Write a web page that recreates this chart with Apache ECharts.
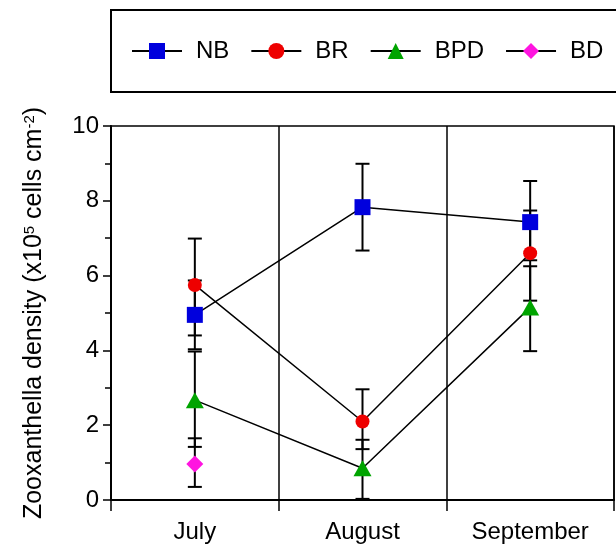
<!DOCTYPE html>
<html>
<head>
<meta charset="utf-8">
<script src="https://cdn.jsdelivr.net/npm/echarts@6/dist/echarts.min.js"></script>
<style>
  html, body { margin: 0; padding: 0; background: #fff; }
  #chart { width: 616px; height: 544px; }
</style>
</head>
<body>
<div id="chart"></div>
<script>
// months on the x axis
var months = ['July', 'August', 'September'];

// mean zooxanthella density (x10^5 cells cm-2)
var nbMean  = [4.95, 7.83, 7.43];
var brMean  = [5.75, 2.10, 6.60];
var bpdMean = [2.67, 0.85, 5.15];
var bdMean  = [0.96, null, null];

// error bar limits (lower / upper)
var nbLow  = [4.03, 6.67, 6.41];
var nbHigh = [5.87, 8.99, 8.53];
var brLow  = [4.40, 1.36, 5.33];
var brHigh = [6.99, 2.96, 7.74];
var bpdLow  = [1.42, 0.03, 3.98];
var bpdHigh = [3.97, 1.61, 6.25];
var bdLow  = [0.35, null, null];
var bdHigh = [1.65, null, null];

var FONT = "'Liberation Sans', Arial, sans-serif";

function errData(low, high) {
    var out = [];
    for (var i = 0; i < low.length; i++) {
        if (low[i] != null) out.push([i, low[i], high[i]]);
    }
    return out;
}

function errSeries(low, high) {
    return {
        type: 'custom',
        silent: true,
        z: 1,
        data: errData(low, high),
        encode: { x: 0, y: [1, 2] },
        renderItem: function (params, api) {
            var x = api.value(0);
            var lo = api.coord([x, api.value(1)]);
            var hi = api.coord([x, api.value(2)]);
            var cap = 7;
            var st = { stroke: '#000', lineWidth: 2 };
            return {
                type: 'group',
                children: [
                    { type: 'line', shape: { x1: lo[0], y1: lo[1], x2: hi[0], y2: hi[1] }, style: st },
                    { type: 'line', shape: { x1: lo[0] - cap, y1: lo[1], x2: lo[0] + cap, y2: lo[1] }, style: st },
                    { type: 'line', shape: { x1: hi[0] - cap, y1: hi[1], x2: hi[0] + cap, y2: hi[1] }, style: st }
                ]
            };
        }
    };
}

function meanSeries(name, data, symbol, size, color) {
    return {
        name: name,
        type: 'line',
        z: 3,
        data: data,
        symbol: symbol,
        symbolSize: size,
        showAllSymbol: true,
        connectNulls: false,
        lineStyle: { color: '#000', width: 1.5 },
        itemStyle: { color: color, opacity: 1 },
        emphasis: { disabled: true }
    };
}

var myChart = echarts.init(document.getElementById('chart'));
var option = {
    backgroundColor: '#fff',
    animation: false,
    textStyle: { fontFamily: FONT },
    grid: {
        left: 111,
        right: 2,
        top: 126,
        bottom: 43,
        show: true,
        borderColor: '#000',
        borderWidth: 1.5,
        containLabel: false
    },
    legend: {
        left: 131,
        top: 39,
        width: 600,
        padding: 0,
        itemWidth: 50,
        itemHeight: 20,
        itemGap: 21,
        selectedMode: false,
        textStyle: { fontSize: 24, color: '#000', fontFamily: FONT, padding: [0, 0, 0, 9] },
        data: ['NB', 'BR', 'BPD', 'BD']
    },
    graphic: [{
        type: 'rect',
        shape: { x: 111, y: 10, width: 520, height: 82 },
        style: { fill: 'none', stroke: '#000', lineWidth: 2 },
        silent: true
    }],
    xAxis: {
        type: 'category',
        data: months,
        boundaryGap: true,
        axisLine: { lineStyle: { color: '#000', width: 2 } },
        axisTick: { show: true, length: 11, inside: false, lineStyle: { color: '#000', width: 1.5 } },
        axisLabel: { color: '#000', fontSize: 24, margin: 20, fontFamily: FONT },
        splitLine: { show: true, lineStyle: { color: '#000', width: 1.5 } }
    },
    yAxis: {
        type: 'value',
        min: 0,
        max: 10,
        interval: 2,
        name: 'Zooxanthella density (x10{sup|5} cells cm{sup|-2})',
        nameLocation: 'middle',
        nameGap: 64,
        nameTextStyle: {
            color: '#000',
            fontSize: 25,
            fontFamily: FONT,
            rich: {
                sup: { fontSize: 15, verticalAlign: 'top', fontFamily: FONT, color: '#000' }
            }
        },
        axisLine: { show: true, lineStyle: { color: '#000', width: 2 } },
        axisTick: { show: true, length: 8, inside: false, lineStyle: { color: '#000', width: 1.5 } },
        minorTick: { show: true, splitNumber: 2, length: 6, lineStyle: { color: '#000', width: 1.5 } },
        axisLabel: { color: '#000', fontSize: 24, margin: 12, fontFamily: FONT },
        splitLine: { show: false }
    },
    series: [
        errSeries(nbLow, nbHigh),
        errSeries(brLow, brHigh),
        errSeries(bpdLow, bpdHigh),
        errSeries(bdLow, bdHigh),
        meanSeries('NB', nbMean, 'rect', 16, '#0000dd'),
        meanSeries('BR', brMean, 'circle', 14, '#ee0000'),
        meanSeries('BPD', bpdMean, 'triangle', [18, 16], '#00a400'),
        meanSeries('BD', bdMean, 'diamond', [17, 17], '#ff14e0')
    ]
};
myChart.setOption(option);
</script>
</body>
</html>
